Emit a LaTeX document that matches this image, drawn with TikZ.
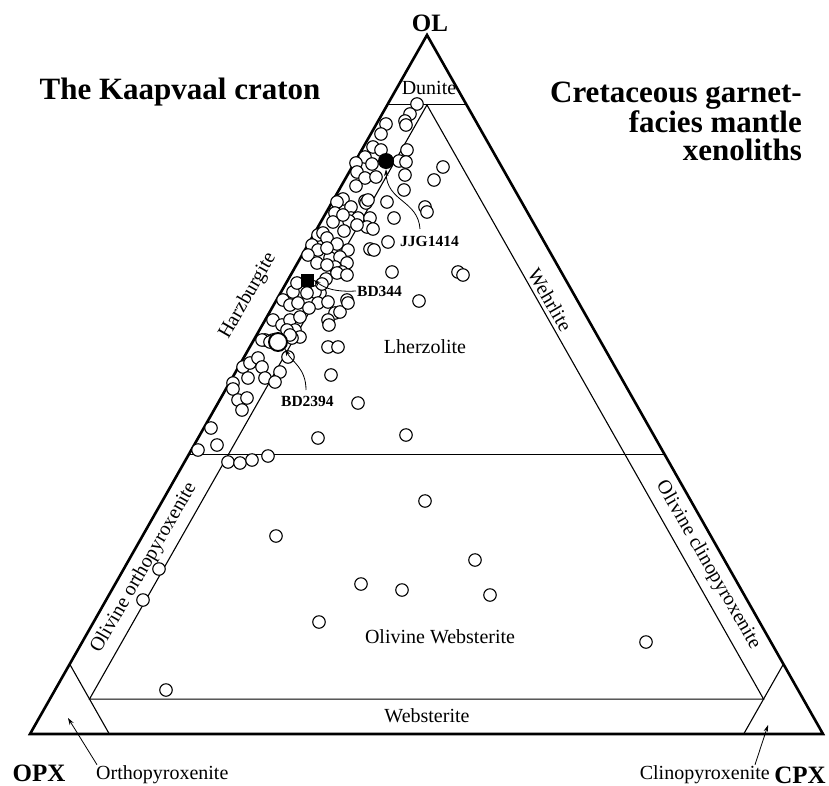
\documentclass[tikz,border=0pt]{standalone}
\usepackage{fontspec}
\setmainfont{Liberation Serif}
\usetikzlibrary{arrows.meta, positioning, calc}

\begin{document}
\begin{tikzpicture}[
    x=1pt, y=-1pt,
    edge/.style={line width=2.6pt, line join=miter},
    bnd/.style={line width=1.1pt},
    smp/.style={circle, draw, fill=white, line width=1.1pt, inner sep=0pt, minimum size=12.5pt},
    zone/.style={font=\fontsize{20}{22}\selectfont, inner sep=1pt},
    endm/.style={font=\fontsize{25}{27}\selectfont\bfseries, inner sep=1pt},
    ttl/.style={font=\fontsize{31}{28.5}\selectfont\bfseries, inner sep=0pt},
    smpl/.style={font=\fontsize{15.5}{17}\selectfont\bfseries, inner sep=1pt},
    ptr/.style={-{Stealth[length=7pt, width=4.5pt]}, line width=0.8pt},
  ]
  \useasboundingbox (0,0) rectangle (829,785);
  % end members of the ternary
  \coordinate (ol)  at (427,35);
  \coordinate (opx) at (30,734);
  \coordinate (cpx) at (823,734);

  % field boundaries
  \draw[bnd] (barycentric cs:ol=.9,opx=.1) -- (barycentric cs:ol=.9,cpx=.1);
  \draw[bnd] (barycentric cs:ol=.4,opx=.6) -- (barycentric cs:ol=.4,cpx=.6);
  \draw[bnd] (barycentric cs:ol=.9,opx=.05,cpx=.05) -- (barycentric cs:ol=.05,opx=.9,cpx=.05)
             -- (barycentric cs:ol=.05,opx=.05,cpx=.9) -- cycle;
  \draw[bnd] (barycentric cs:ol=.1,opx=.9) -- (barycentric cs:opx=.9,cpx=.1);
  \draw[bnd] (barycentric cs:ol=.1,cpx=.9) -- (barycentric cs:opx=.1,cpx=.9);
  \draw[edge] (ol) -- (opx) -- (cpx) -- cycle;

  % xenolith compositions
  \foreach \x/\y [count=\i] in {417/104, 410/114, 405/121, 406/125, 386/124, 381/134, 373/147,
      381/150, 407/150, 365/157, 356/163, 372/164, 399/161, 406/162, 357/172, 365/178,
      376/177, 356/186, 405/175, 443/167, 434/180, 404/190, 387/202, 365/201,
      343/199, 337/202, 351/207, 366/203, 368/200, 335/213, 351/218, 358/218, 370/218,
      333/222, 349/221, 367/227, 373/229, 344/231, 394/218, 388/242, 370/249, 374/250,
      318/235, 323/233, 327/238, 312/245, 337/244, 318/250, 348/250, 330/258, 340/257,
      308/255, 347/263, 317/263, 335/267, 342/272, 392/272, 425/207, 427/212, 458/272,
      463/275, 419/301, 343/215, 357/225, 327/248, 327/265, 337/273, 347/275, 326/279,
      320/293, 315/292, 307/293, 293/292, 283/300, 290/305, 298/303, 318/303, 328/302,
      335/313, 340/312, 347/300, 348/303, 328/320, 329/325, 273/320, 282/325, 290/320,
      300/317, 295/330, 300/337, 265/340, 273/340, 292/338, 328/347, 338/347, 297/283,
      322/284, 309/308, 287/330, 262/340, 270/342, 290/335, 288/357, 243/367, 250/363,
      258/358, 262/367, 248/378, 265/378, 280/372, 275/382, 233/383, 233/389, 238/400,
      247/398, 242/410, 211/428, 217/445, 198/450, 228/462, 240/463, 252/460, 268/456,
      318/438, 406/435, 358/403, 331/375, 425/501, 276/536, 475/560, 361/584, 402/590,
      490/595, 319/622, 646/642, 159/569, 143/600, 166/690}
    \node[smp] (s\i) at (\x,\y) {};

  % highlighted samples
  \node[circle, fill=black, inner sep=0pt, minimum size=16pt] (jjgpt) at (386,161) {};
  \node[fill=black, inner sep=0pt, minimum size=13pt] (bdpt) at (307,280) {};
  \node[circle, draw, fill=white, line width=1.9pt, inner sep=0pt, minimum size=18pt] (bdbpt) at (278,342) {};

  \node[smpl, anchor=west] (jjg) at (399,241) {JJG1414};
  \node[smpl, anchor=west] (bd) at (356,291) {BD344};
  \node[smpl, anchor=west] (bdb) at (280,401) {BD2394};
  \draw[ptr] (420,229) .. controls (418,200) and (387,202) .. (jjgpt.south);
  \draw[ptr] (bd.west) .. controls (336,292) and (326,289) .. (bdpt.east);
  \draw[ptr] (306,390) .. controls (306,368) and (292,362) .. (bdbpt.south east);

  % field names
  \node[zone] (dun) at (429,88) {Dunite};
  \node[zone] (lhz) at (425,347) {Lherzolite};
  \node[zone, rotate=60] (hzb) at (248,296) {Harzburgite};
  \node[zone, rotate=-60] (wehr) at (550,300) {Wehrlite};
  \node[zone, rotate=60] (oopx) at (144,568) {Olivine orthopyroxenite};
  \node[zone, rotate=-60] (ocpx) at (708,565) {Olivine clinopyroxenite};
  \node[zone] (oweb) at (440,637) {Olivine Websterite};
  \node[zone] (web) at (427,716) {Websterite};
  \node[zone, anchor=west] (opxt) at (95,775) {Orthopyroxenite};
  \node[zone, anchor=east] (cpxt) at (771,775) {Clinopyroxenite};
  \draw[ptr] (opxt.north west) ++(2,0) -- (68,718);
  \draw[ptr] ([xshift=-16pt]cpxt.north east) -- (768,725);

  % end-member labels and titles
  \node[endm] (olt) at (430,23) {OL};
  \node[endm] (opxl) at (39,773) {OPX};
  \node[endm] (cpxl) at (800,775) {CPX};
  \node[ttl] (left) at (180,92) {The Kaapvaal craton};
  \node[ttl, align=right, anchor=north east] (right) at (802,82) {Cretaceous garnet-\\facies mantle\\xenoliths};
\end{tikzpicture}
\end{document}
